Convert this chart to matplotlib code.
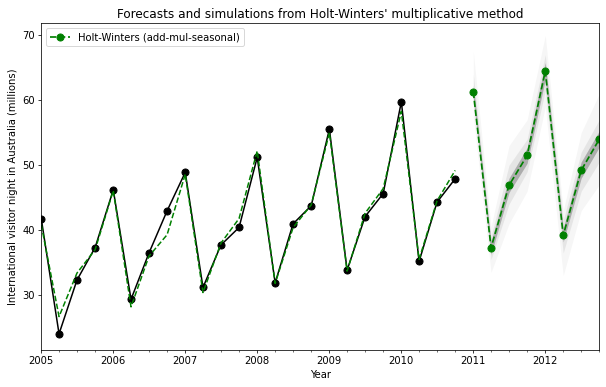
import numpy as np
import pandas as pd
import matplotlib
matplotlib.use("Agg")
import matplotlib.pyplot as plt
import matplotlib.dates as mdates

# observed visitor nights, 2005Q1 - 2010Q4
observed = [41.73, 24.04, 32.33, 37.33, 46.21, 29.35, 36.48, 42.98,
            48.90, 31.18, 37.72, 40.42, 51.21, 31.89, 40.98, 43.77,
            55.56, 33.85, 42.08, 45.64, 59.77, 35.19, 44.32, 47.91]

# fitted values from the model
fitted = [40.8, 26.7, 33.4, 37.0, 46.1, 28.2, 36.0, 39.3,
          48.6, 30.4, 38.0, 41.8, 52.2, 31.8, 40.4, 43.9,
          55.0, 33.7, 42.6, 46.4, 58.3, 35.5, 44.5, 49.2]

# forecast 2011Q1 - 2012Q4
forecast = [61.3, 37.3, 46.9, 51.5, 64.5, 39.2, 49.2, 54.0]

# spread of the simulations (lower / upper), outer to inner
sim_outer_lo = [57.5, 33.5, 41.0, 46.0, 59.0, 33.0, 43.0, 47.0]
sim_outer_hi = [67.5, 40.5, 53.0, 57.0, 70.0, 43.0, 55.0, 61.0]
sim_mid_lo = [59.5, 35.5, 44.0, 49.0, 61.5, 36.5, 46.0, 50.5]
sim_mid_hi = [64.0, 39.0, 50.0, 54.0, 67.0, 41.5, 52.0, 57.0]
sim_in_lo = [60.3, 36.3, 45.8, 50.3, 63.2, 38.2, 48.0, 52.8]
sim_in_hi = [62.3, 38.3, 48.0, 52.7, 65.8, 40.3, 50.5, 55.3]

hist_idx = pd.date_range("2005-01-01", periods=len(observed), freq="QS")
fc_idx = pd.date_range("2011-01-01", periods=len(forecast), freq="QS")

plt.rcParams["font.size"] = 10.6

fig = plt.figure(figsize=(606 / 68, 387 / 68), dpi=68)
ax = fig.add_axes([41.3 / 606, 1 - 349.7 / 387, 558 / 606, 326.4 / 387])

ax.fill_between(fc_idx, sim_outer_lo, sim_outer_hi, color="gray", alpha=0.07, lw=0)
ax.fill_between(fc_idx, sim_mid_lo, sim_mid_hi, color="gray", alpha=0.14, lw=0)
ax.fill_between(fc_idx, sim_in_lo, sim_in_hi, color="dimgray", alpha=0.45, lw=0)

ax.plot(hist_idx, observed, marker="o", color="black", lw=1.6, ms=7.5)
ax.plot(hist_idx, fitted, ls="--", color="green", lw=1.6)
ax.plot(fc_idx, forecast, ls="--", marker="o", color="green", lw=1.8, ms=7.5,
        label="Holt-Winters (add-mul-seasonal)")

ax.set_xlim(pd.Timestamp("2005-01-01"), pd.Timestamp("2012-10-01"))
ax.set_ylim(21.6, 71.85)
ax.xaxis.set_major_locator(mdates.YearLocator())
ax.xaxis.set_major_formatter(mdates.DateFormatter("%Y"))
ax.xaxis.set_minor_locator(mdates.MonthLocator(bymonth=[1, 4, 7, 10]))
ax.set_yticks([30, 40, 50, 60, 70])

ax.set_xlabel("Year")
ax.set_ylabel("International visitor night in Australia (millions)")
ax.set_title("Forecasts and simulations from Holt-Winters' multiplicative method", fontsize=12.7)
ax.legend(loc="upper left")

fig.savefig("out.png", dpi=68)
